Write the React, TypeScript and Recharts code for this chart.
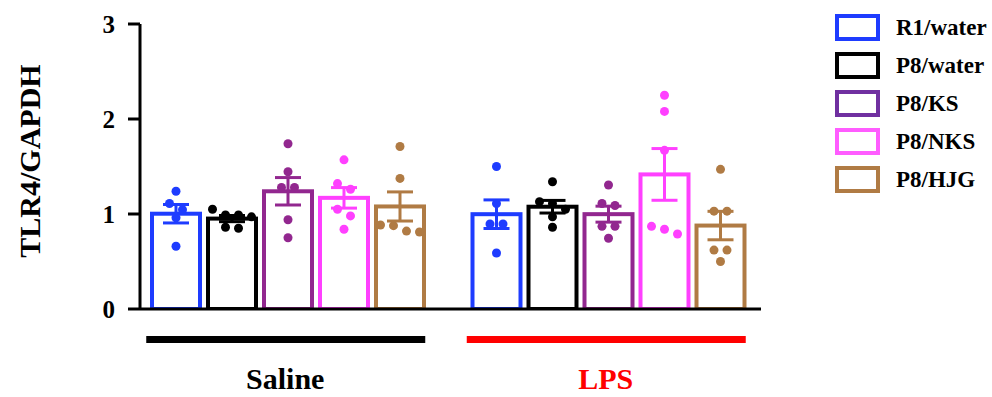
import { BarChart, Bar, XAxis, YAxis, ErrorBar, Legend } from "recharts";

const CATEGORIES = ["Saline", "LPS"];
const CATEGORY_COLORS = ["#000000", "#FF0000"];
const GROUPS = ["R1/water", "P8/water", "P8/KS", "P8/NKS", "P8/HJG"];
const BAR_COLORS = ["#1E3CFF", "#000000", "#92278F", "#FF40FF", "#B07B44"];
const LEGEND_COLORS = ["#1E3CFF", "#000000", "#7030A0", "#FF5CFF", "#B07B44"];
const Y_TICKS = [0, 1, 2, 3];

// individual animals, [saline, lps]
const r1Water = [
  [1.24, 1.11, 1.045, 0.96, 0.66],
  [1.5, 1.11, 0.895, 0.895, 0.59],
];
const p8Water = [
  [1.05, 0.99, 0.99, 0.97, 0.86, 0.85],
  [1.34, 1.13, 1.11, 1.05, 0.97, 0.86],
];
const p8KS = [
  [1.74, 1.445, 1.28, 1.28, 0.94, 0.75],
  [1.305, 1.11, 1.09, 0.87, 0.87, 0.745],
];
const p8NKS = [
  [1.57, 1.32, 1.26, 1.05, 0.98, 0.84],
  [2.25, 2.08, 1.67, 0.87, 0.84, 0.79],
];
const p8HJG = [
  [1.71, 1.375, 0.884, 0.877, 0.82, 0.81],
  [1.47, 1.03, 1.03, 0.62, 0.62, 0.5],
];

const SERIES = [r1Water, p8Water, p8KS, p8NKS, p8HJG];

const FONT = "Liberation Serif";
const textStyle = { fontFamily: FONT, fontWeight: 700 };

function mean(v: number[]) {
  return v.reduce((a, b) => a + b, 0) / v.length;
}

function sem(v: number[]) {
  const m = mean(v);
  const ss = v.reduce((a, b) => a + (b - m) * (b - m), 0);
  return Math.sqrt(ss / (v.length - 1)) / Math.sqrt(v.length);
}

const data = CATEGORIES.map((name, ci) => {
  const row: Record<string, any> = { name };
  SERIES.forEach((s, si) => {
    row[`m${si}`] = mean(s[ci]);
    row[`e${si}`] = sem(s[ci]);
    row[`d${si}`] = s[ci];
  });
  return row;
});

const DOT_R = 4.5;
const ROW_GAP = 9;
const SPREAD = 13;

// simple graphpad-ish scatter: dots close in y share a row and spread out
function swarm(ys: number[]) {
  const sorted = [...ys].sort((a, b) => a - b);
  const rows: number[][] = [];
  for (const y of sorted) {
    const cur = rows[rows.length - 1];
    if (cur && y - cur[0] < ROW_GAP) cur.push(y);
    else rows.push([y]);
  }
  const out: { dx: number; y: number }[] = [];
  rows.forEach((r) => {
    r.forEach((y, i) => out.push({ dx: (i - (r.length - 1) / 2) * SPREAD, y }));
  });
  return out;
}

function makeShape(si: number) {
  return (props: any) => {
    const { x, y, width, height, payload } = props;
    const m = payload[`m${si}`];
    const base = y + height;
    const ppu = height / m;
    const cx = x + width / 2;
    const pts = swarm((payload[`d${si}`] as number[]).map((v) => base - v * ppu));
    return (
      <g>
        <rect
          x={x}
          y={y}
          width={width}
          height={height}
          fill="#fff"
          stroke={BAR_COLORS[si]}
          strokeWidth={4}
        />
        {pts.map((p, i) => (
          <circle key={i} cx={cx + p.dx} cy={p.y} r={DOT_R} fill={BAR_COLORS[si]} />
        ))}
      </g>
    );
  };
}

function GroupTick(props: any) {
  const { x, y, payload, index } = props;
  const color = CATEGORY_COLORS[index] ?? "#000";
  return (
    <g>
      <rect x={x - 142} y={y + 27} width={279} height={7} fill={color} />
      <text
        x={x - 3}
        y={y + 80}
        textAnchor="middle"
        fill={color}
        style={{ ...textStyle, fontSize: 30 }}
      >
        {payload.value}
      </text>
    </g>
  );
}

function ValueTick(props: any) {
  const { x, y, payload } = props;
  return (
    <text
      x={x}
      y={y + 9}
      textAnchor="end"
      fill="#000"
      style={{ ...textStyle, fontSize: 25 }}
    >
      {payload.value}
    </text>
  );
}

function LegendBox() {
  return (
    <div style={{ position: "relative", whiteSpace: "nowrap" }}>
      {GROUPS.map((g, i) => (
        <div
          key={g}
          style={{
            position: "absolute",
            left: 0,
            top: i * 38,
            height: 27,
            display: "flex",
            alignItems: "center",
          }}
        >
          <span
            style={{
              display: "inline-block",
              width: 45,
              height: 27,
              boxSizing: "border-box",
              border: `4px solid ${LEGEND_COLORS[i]}`,
              background: "#fff",
            }}
          />
          <span
            style={{
              ...textStyle,
              marginLeft: 16,
              fontSize: 23,
              color: "#000",
              lineHeight: "27px",
            }}
          >
            {g}
          </span>
        </div>
      ))}
    </div>
  );
}

export default function App() {
  return (
    <div style={{ position: "absolute", left: 0, top: 0, background: "#fff" }}>
      <BarChart
        width={992}
        height={397}
        data={data}
        barSize={48}
        barGap={8}
        margin={{ top: 24, right: 231, bottom: 0, left: 60 }}
      >
        <XAxis
          dataKey="name"
          height={88}
          padding={{ left: -12, right: -8 }}
          axisLine={{ stroke: "#000", strokeWidth: 3 }}
          tickLine={false}
          tickSize={0}
          tickMargin={0}
          tick={<GroupTick />}
          interval={0}
        />
        <YAxis
          width={80}
          domain={[0, 3]}
          ticks={Y_TICKS}
          allowDataOverflow
          axisLine={{ stroke: "#000", strokeWidth: 3 }}
          tickLine={{ stroke: "#000", strokeWidth: 3 }}
          tickSize={12}
          tickMargin={13}
          tick={<ValueTick />}
          label={{
            content: () => (
              <text
                x={29}
                y={161}
                transform="rotate(-90, 29, 161)"
                textAnchor="middle"
                dominantBaseline="central"
                fill="#000"
                style={{ ...textStyle, fontSize: 30 }}
              >
                TLR4/GAPDH
              </text>
            ),
          }}
        />
        <Legend
          layout="vertical"
          align="right"
          verticalAlign="top"
          content={() => <LegendBox />}
          wrapperStyle={{ left: 835, top: 14, width: 0, height: 0 }}
        />
        {GROUPS.map((g, si) => (
          <Bar
            key={g}
            dataKey={`m${si}`}
            name={g}
            fill="#fff"
            stroke={BAR_COLORS[si]}
            shape={makeShape(si)}
            isAnimationActive={false}
          >
            <ErrorBar
              dataKey={`e${si}`}
              width={13}
              stroke={BAR_COLORS[si]}
              strokeWidth={3}
              direction="y"
              isAnimationActive={false}
            />
          </Bar>
        ))}
      </BarChart>
    </div>
  );
}
